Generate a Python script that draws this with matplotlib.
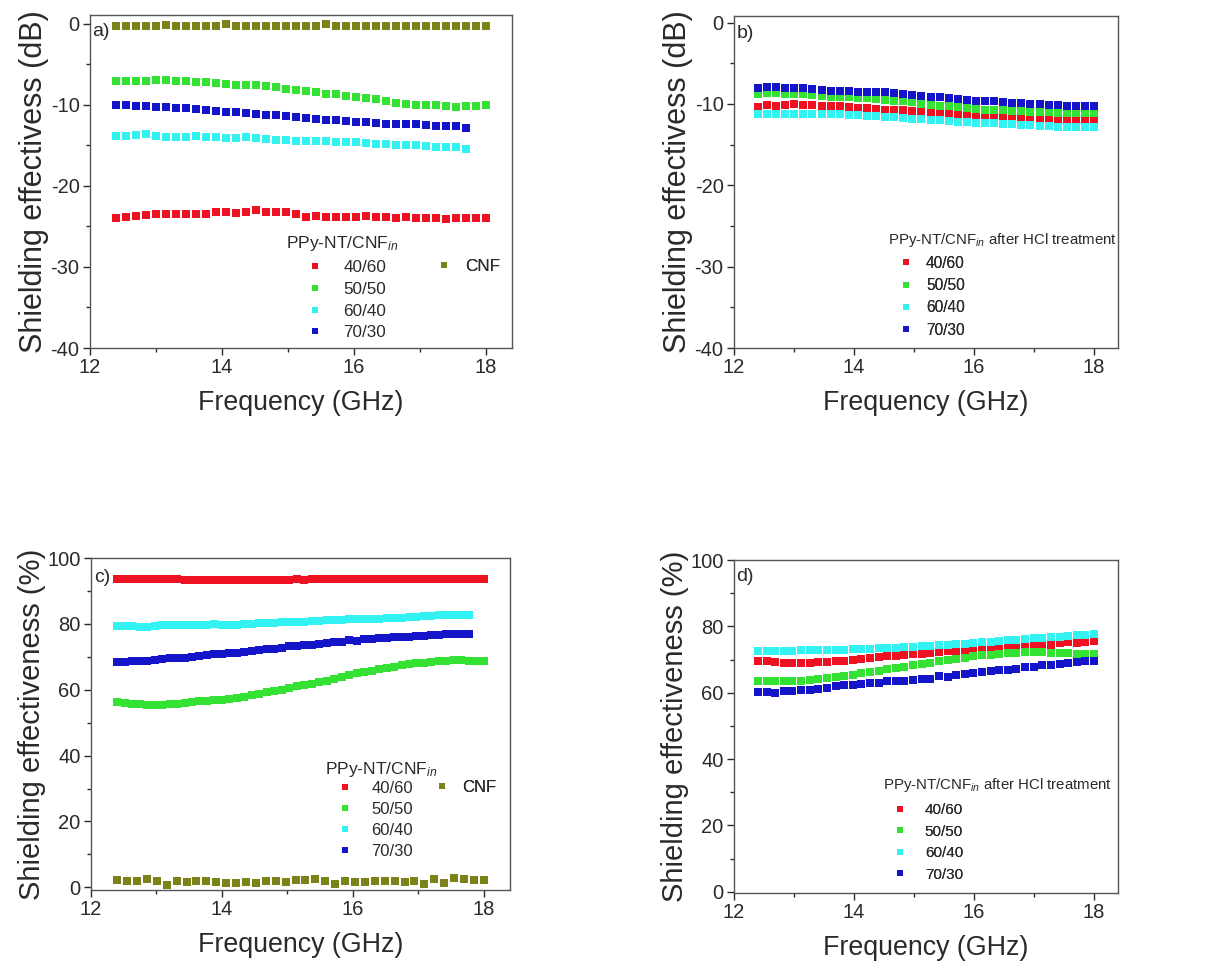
import numpy as np
import matplotlib
matplotlib.use("Agg")
import matplotlib.pyplot as plt
from matplotlib.ticker import MultipleLocator

plt.rcParams['font.family'] = ['Liberation Sans', 'DejaVu Sans']
plt.rcParams['mathtext.fontset'] = 'custom'
plt.rcParams['mathtext.rm'] = 'Liberation Sans'
plt.rcParams['mathtext.it'] = 'Liberation Sans:italic'
plt.rcParams['axes.unicode_minus'] = False

# ---------------- data ----------------
# frequency grids (GHz)
freq_38 = np.linspace(12.4, 18.0, 38)
freq_50 = np.linspace(12.4, 18.0, 50)
freq_40 = np.linspace(12.4, 18.0, 40)

labels_comp = ['40/60', '50/50', '60/40', '70/30']
colors_comp = ['#ee1122', '#33e233', '#33f2f2', '#1414c8']
color_cnf = '#7a8218'

# panel a: SE (dB), as-prepared
a_cnf = [-0.3, -0.3, -0.3, -0.3, -0.3, -0.1, -0.3, -0.3, -0.3, -0.3, -0.2, -0.05, -0.2,
         -0.3, -0.3, -0.3, -0.3, -0.3, -0.3, -0.3, -0.3, -0.05, -0.3, -0.3, -0.3, -0.3,
         -0.3, -0.3, -0.3, -0.2, -0.3, -0.3, -0.2, -0.3, -0.3, -0.3, -0.3, -0.3]
a_4060 = [-23.9, -23.8, -23.7, -23.6, -23.5, -23.5, -23.4, -23.4, -23.4, -23.4, -23.2, -23.2,
          -23.3, -23.2, -23.0, -23.2, -23.2, -23.2, -23.5, -23.8, -23.7, -23.8, -23.8, -23.8,
          -23.8, -23.7, -23.8, -23.8, -23.9, -23.8, -23.9, -23.9, -23.9, -24.1, -24.0, -24.0,
          -24.0, -24.0]
a_5050 = [-7.1, -7.1, -7.0, -7.0, -6.9, -6.9, -7.0, -7.1, -7.2, -7.2, -7.3, -7.4, -7.5, -7.6,
          -7.6, -7.7, -7.8, -8.0, -8.1, -8.3, -8.4, -8.6, -8.7, -8.9, -9.0, -9.2, -9.3, -9.5,
          -9.7, -9.9, -10.0, -10.0, -10.0, -10.1, -10.2, -10.1, -10.1, -10.0]
a_6040 = [-13.8, -13.8, -13.7, -13.6, -13.8, -13.9, -13.9, -13.9, -13.8, -13.9, -14.0, -14.1,
          -14.1, -14.0, -14.1, -14.2, -14.3, -14.3, -14.4, -14.4, -14.4, -14.5, -14.6, -14.6,
          -14.6, -14.7, -14.8, -14.8, -14.9, -14.9, -15.0, -15.1, -15.2, -15.2, -15.2, -15.4]
a_7030 = [-10.0, -10.0, -10.1, -10.1, -10.2, -10.3, -10.4, -10.4, -10.5, -10.6, -10.8, -10.9,
          -10.9, -11.0, -11.1, -11.2, -11.3, -11.4, -11.5, -11.6, -11.7, -11.8, -11.9, -12.0,
          -12.1, -12.1, -12.2, -12.3, -12.3, -12.4, -12.4, -12.5, -12.6, -12.6, -12.6, -12.8]

# panel b: SE (dB), after HCl treatment
b_4060 = [-10.4, -10.1, -10.2, -10.1, -10.0, -10.1, -10.1, -10.2, -10.3, -10.3, -10.4, -10.5,
          -10.5, -10.6, -10.7, -10.7, -10.8, -10.9, -11.0, -11.1, -11.2, -11.3, -11.3, -11.4,
          -11.4, -11.5, -11.6, -11.6, -11.7, -11.7, -11.8, -11.8, -11.9, -11.9, -12.0, -12.0,
          -12.1, -12.1]
b_5050 = [-8.8, -8.7, -8.7, -8.8, -8.8, -8.8, -8.9, -9.0, -9.1, -9.1, -9.2, -9.3, -9.3, -9.4,
          -9.5, -9.6, -9.7, -9.8, -10.0, -10.1, -10.2, -10.3, -10.4, -10.5, -10.6, -10.7, -10.8,
          -10.8, -10.9, -10.9, -11.0, -11.0, -11.0, -11.1, -11.1, -11.1, -11.1, -11.1]
b_6040 = [-11.2, -11.2, -11.2, -11.2, -11.2, -11.2, -11.3, -11.3, -11.3, -11.3, -11.4, -11.4,
          -11.5, -11.5, -11.6, -11.6, -11.7, -11.8, -11.9, -12.0, -12.0, -12.1, -12.2, -12.2,
          -12.3, -12.3, -12.4, -12.5, -12.5, -12.6, -12.6, -12.7, -12.7, -12.8, -12.8, -12.9,
          -12.9, -12.9]
b_7030 = [-8.0, -7.9, -7.9, -8.0, -8.1, -8.1, -8.2, -8.3, -8.4, -8.4, -8.4, -8.5, -8.5, -8.6,
          -8.6, -8.7, -8.8, -8.9, -9.0, -9.1, -9.2, -9.3, -9.4, -9.5, -9.6, -9.6, -9.7, -9.8,
          -9.9, -9.9, -10.0, -10.0, -10.1, -10.1, -10.2, -10.2, -10.3, -10.3]

# panel c: SE (%), as-prepared
c_cnf = [2.1, 2.0, 1.8, 2.4, 1.8, 0.8, 2.0, 1.6, 1.8, 1.8, 1.6, 1.3, 1.2, 1.5, 1.4, 1.8, 1.9,
         1.6, 2.2, 2.3, 2.4, 2.0, 0.9, 1.8, 1.5, 1.6, 1.8, 2.0, 1.8, 1.6, 1.9, 1.0, 2.5, 1.2,
         2.8, 2.6, 2.3, 2.1]
c_4060 = [93.6, 93.6, 93.6, 93.6, 93.6, 93.5, 93.5, 93.6, 93.5, 93.4, 93.4, 93.4, 93.4, 93.3,
          93.3, 93.3, 93.3, 93.3, 93.3, 93.2, 93.3, 93.3, 93.4, 93.4, 93.5, 93.4, 93.5, 93.5,
          93.6, 93.6, 93.7, 93.6, 93.5, 93.5, 93.5, 93.6, 93.6, 93.7, 93.7, 93.7, 93.6, 93.6,
          93.6, 93.7, 93.7, 93.7, 93.7, 93.7, 93.7, 93.7]
c_5050 = [56.2, 55.9, 55.7, 55.7, 55.5, 55.5, 55.5, 55.6, 55.8, 56.0, 56.3, 56.5, 56.5, 56.8,
          57.0, 57.3, 57.6, 57.9, 58.3, 58.6, 59.2, 59.6, 60.0, 60.5, 61.0, 61.4, 61.8, 62.3,
          62.7, 63.3, 63.8, 64.5, 65.0, 65.3, 65.7, 66.2, 66.6, 67.0, 67.5, 67.8, 68.0, 68.2,
          68.4, 68.6, 68.8, 69.0, 68.9, 68.8, 68.6, 68.6]
c_6040 = [79.3, 79.4, 79.3, 79.2, 79.2, 79.4, 79.6, 79.7, 79.6, 79.7, 79.7, 79.8, 79.8, 79.9,
          79.8, 79.8, 79.7, 79.9, 80.1, 80.2, 80.2, 80.3, 80.5, 80.6, 80.7, 80.7, 80.9, 81.0,
          81.2, 81.2, 81.3, 81.4, 81.4, 81.5, 81.5, 81.6, 81.7, 81.8, 81.9, 82.0, 82.1, 82.3,
          82.4, 82.6, 82.7, 82.6, 82.8, 82.8]
c_7030 = [68.5, 68.5, 68.6, 68.8, 68.7, 69.0, 69.4, 69.5, 69.6, 69.6, 69.8, 70.2, 70.5, 70.8,
          71.0, 71.1, 71.3, 71.5, 71.7, 72.0, 72.5, 72.5, 72.8, 73.2, 73.4, 73.5, 73.6, 74.0,
          74.2, 74.4, 74.5, 75.0, 74.8, 75.3, 75.5, 75.7, 75.8, 75.9, 76.0, 76.1, 76.2, 76.3,
          76.6, 76.7, 76.8, 76.8, 76.9, 77.0]

# panel d: SE (%), after HCl treatment
d_4060 = [69.6, 69.4, 69.3, 69.0, 68.8, 68.8, 69.0, 69.3, 69.2, 69.4, 69.6, 70.0, 70.3, 70.6,
          70.8, 71.0, 71.2, 71.4, 71.6, 71.8, 72.0, 72.3, 72.5, 72.6, 72.8, 73.0, 73.2, 73.3,
          73.4, 73.6, 74.2, 74.3, 74.3, 74.4, 74.5, 75.0, 75.3, 75.0, 75.3, 75.5]
d_5050 = [63.6, 63.5, 63.4, 63.5, 63.5, 63.6, 63.8, 64.0, 64.3, 64.6, 65.0, 65.4, 65.8, 66.2,
          66.6, 67.0, 67.4, 67.8, 68.3, 68.6, 69.0, 69.4, 69.8, 70.2, 70.6, 71.0, 71.3, 71.5,
          71.8, 72.0, 72.1, 72.2, 72.2, 72.2, 72.1, 72.0, 71.9, 71.8, 71.7, 71.6]
d_6040 = [72.5, 72.5, 72.6, 72.7, 72.7, 72.8, 72.9, 72.9, 73.0, 72.8, 73.0, 73.1, 73.2, 73.3,
          73.4, 73.5, 73.6, 73.7, 73.9, 74.0, 74.2, 74.3, 74.5, 74.6, 74.8, 75.0, 75.2, 75.4,
          75.6, 75.8, 76.0, 76.2, 76.4, 76.5, 76.7, 76.9, 77.1, 77.3, 77.5, 77.7]
d_7030 = [60.3, 60.2, 60.0, 60.4, 60.6, 60.8, 60.9, 61.0, 61.5, 62.0, 62.2, 62.4, 62.6, 62.8,
          63.0, 63.4, 63.6, 63.4, 63.8, 64.2, 64.0, 65.0, 64.8, 65.3, 65.6, 65.9, 66.2, 66.5,
          66.7, 66.9, 67.2, 67.6, 67.8, 68.2, 68.4, 68.6, 68.8, 69.2, 69.4, 69.6]

xticks = [12, 14, 16, 18]
db_ticks = [0, -10, -20, -30, -40]
pct_ticks = [0, 20, 40, 60, 80, 100]

title_in = 'PPy-NT/CNF$_{in}$'
title_hcl = 'PPy-NT/CNF$_{in}$ after HCl treatment'

# ---------------- figure ----------------
W, H = 1213, 963
fig = plt.figure(figsize=(W / 100, H / 100), dpi=100)
XLIM = (12, 18.4)


def px_axes(l, t, r, b):
    ax = fig.add_axes([l / W, 1 - b / H, (r - l) / W, (b - t) / H])
    ax._pxw = r - l
    return ax


axA = px_axes(90, 15, 512, 348)
axB = px_axes(734, 16, 1118, 348)
axC = px_axes(91, 558, 510, 890)
axD = px_axes(734, 560, 1118, 893)

DARK = '#2a2a2a'
MS = 5.2


def style(ax, ylim, yticks, ymin_step, ylabel, ylabel_fs):
    ax.set_xlim(*XLIM)
    ax.set_ylim(*ylim)
    ax.set_xticks(xticks)
    ax.set_yticks(yticks)
    ax.xaxis.set_minor_locator(MultipleLocator(1))
    ax.yaxis.set_minor_locator(MultipleLocator(ymin_step))
    ax.tick_params(which='both', direction='out', top=False, right=False,
                   colors=DARK, labelcolor=DARK)
    ax.tick_params(which='major', length=5, width=1, labelsize=14.5, pad=2.5)
    ax.tick_params(which='minor', length=3, width=1)
    for s in ax.spines.values():
        s.set_color('#555555')
        s.set_linewidth(1.0)
    ax.set_xlabel('Frequency (GHz)', fontsize=19.3, color=DARK, labelpad=9)
    ax.set_ylabel(ylabel, fontsize=ylabel_fs, color=DARK, labelpad=1)


def add_rows(ax, handles, labels, marker_x, text_x, y_mid, fs, ls):
    """Legend rows anchored in data coords: marker centre at marker_x, text at text_x."""
    fs_px = fs * 100 / 72
    ppu = ax._pxw / (XLIM[1] - XLIM[0])
    hl = 1.0
    x_left = marker_x - (hl * fs_px / 2) / ppu
    htp = ((text_x - marker_x) * ppu - hl * fs_px / 2) / fs_px
    leg = ax.legend(handles, labels, loc='center left', bbox_to_anchor=(x_left, y_mid),
                    bbox_transform=ax.transData, frameon=False, fontsize=fs,
                    handlelength=hl, handletextpad=htp, labelspacing=ls,
                    borderpad=0, borderaxespad=0, markerscale=0.8, numpoints=1)
    for t in leg.get_texts():
        t.set_color(DARK)
    ax.add_artist(leg)
    return leg


# ----- panel a -----
hA = []
for f, y, c in zip([freq_38, freq_38, freq_38[:36], freq_38[:36]],
                   [a_4060, a_5050, a_6040, a_7030], colors_comp):
    hA.append(axA.plot(f, y, 's', color=c, ms=MS, mew=0, linestyle='none')[0])
hA_cnf = axA.plot(freq_38, a_cnf, 's', color=color_cnf, ms=MS, mew=0, linestyle='none')[0]
style(axA, (-40, 1.1), db_ticks, 5, 'Shielding effectivess (dB)', 22)
axA.text(14.98, -27.1, title_in, fontsize=12.5, va='center', ha='left', color=DARK)
add_rows(axA, hA, labels_comp, 15.41, 15.84, -34.1, 12.3, 0.40)
add_rows(axA, [hA_cnf], ['CNF'], 17.37, 17.69, -30.0, 12.3, 0.40)
axA.text(12.03, -0.9, 'a)', fontsize=14, va='center', ha='left', color=DARK)

# ----- panel b -----
hB = []
for y, c in zip([b_4060, b_5050, b_6040, b_7030], colors_comp):
    hB.append(axB.plot(freq_38, y, 's', color=c, ms=MS, mew=0, linestyle='none')[0])
style(axB, (-40, 0.8), db_ticks, 5, 'Shielding effectivess (dB)', 22)
axB.text(14.56, -26.7, title_hcl, fontsize=10.8, va='center', ha='left', color=DARK)
add_rows(axB, hB, labels_comp, 14.86, 15.20, -33.7, 11.2, 0.48)
axB.text(12.04, -1.4, 'b)', fontsize=14, va='center', ha='left', color=DARK)

# ----- panel c -----
hC = []
for f, y, c in zip([freq_50, freq_50, freq_50[:48], freq_50[:48]],
                   [c_4060, c_5050, c_6040, c_7030], colors_comp):
    hC.append(axC.plot(f, y, 's', color=c, ms=MS, mew=0, linestyle='none')[0])
hC_cnf = axC.plot(freq_38, c_cnf, 's', color=color_cnf, ms=MS, mew=0, linestyle='none')[0]
style(axC, (-0.8, 100), pct_ticks, 10, 'Shielding effectiveness (%)', 21)
axC.text(15.57, 35.9, title_in, fontsize=12.5, va='center', ha='left', color=DARK)
add_rows(axC, hC, labels_comp, 15.88, 16.28, 20.55, 12.0, 0.36)
add_rows(axC, [hC_cnf], ['CNF'], 17.36, 17.67, 30.3, 12.0, 0.36)
axC.text(12.05, 94.0, 'c)', fontsize=14, va='center', ha='left', color=DARK)

# ----- panel d -----
hD = []
for y, c in zip([d_4060, d_5050, d_6040, d_7030], colors_comp):
    hD.append(axD.plot(freq_40, y, 's', color=c, ms=MS, mew=0, linestyle='none')[0])
style(axD, (-0.4, 100), pct_ticks, 10, 'Shielding effectiveness (%)', 21)
axD.text(14.49, 32.2, title_hcl, fontsize=10.8, va='center', ha='left', color=DARK)
add_rows(axD, hD, labels_comp, 14.76, 15.18, 14.8, 11.0, 0.49)
axD.text(12.04, 95.0, 'd)', fontsize=14, va='center', ha='left', color=DARK)

fig.savefig('out.png', dpi=100)
